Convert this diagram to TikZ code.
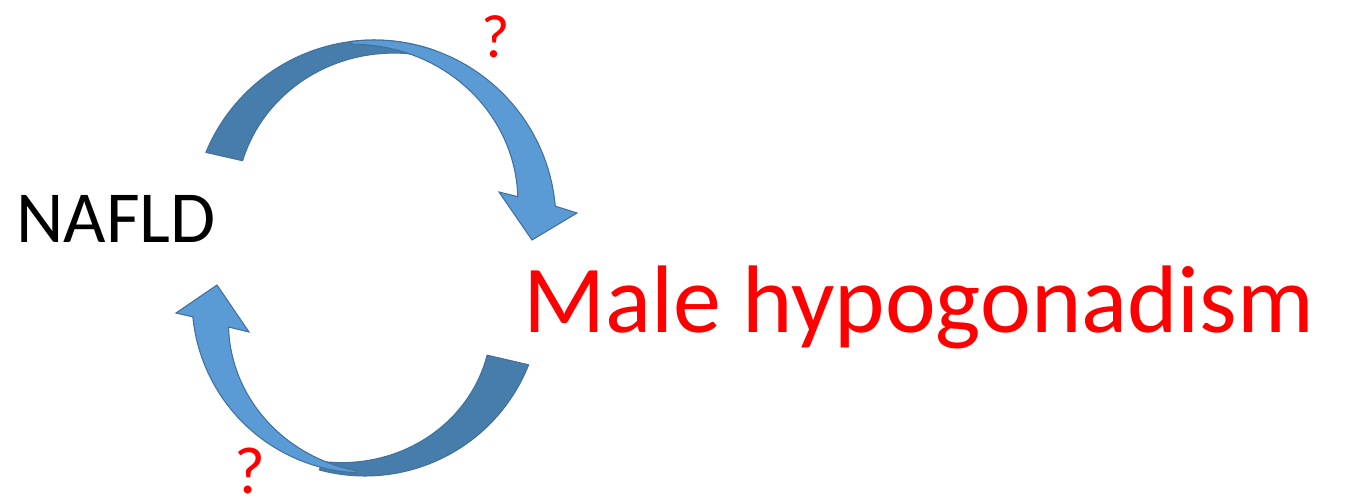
\documentclass[tikz,border=0pt]{standalone}
\usepackage{fontspec}
\setmainfont{Carlito}
\usepackage{tikz}
\usetikzlibrary{positioning}
\definecolor{bandDark}{HTML}{467DAA}
\definecolor{bandLight}{HTML}{5B9BD5}
\definecolor{bandLine}{HTML}{41719C}
\definecolor{qRed}{HTML}{FF0000}
\tikzset{
  backband/.style={fill=bandDark, draw=bandLine, line width=0.8pt, line join=round},
  frontband/.style={fill=bandLight, draw=bandLine, line width=0.8pt, line join=miter},
  term/.style={inner sep=0pt, anchor=base west},
  qmark/.style={inner sep=0pt, anchor=base, text=qRed},
}

\begin{document}
\begin{tikzpicture}[x=0.75pt, y=-0.75pt]
  \useasboundingbox (0,0) rectangle (1345,500);
  \node[term, font=\fontsize{55}{60}\selectfont] (nafld) at (16,242) {NAFLD};
  \node[term, text=qRed, font=\fontsize{72}{80}\selectfont] (hypo) at (523,332) {Male hypogonadism};
  % upper arrow, NAFLD -> hypogonadism
  \path[backband] plot[domain=157.5:70, samples=40] ({374+182*cos(\x)}, {222-182*sin(\x)})
    -- plot[domain=70:155, samples=40] ({374+(145+0.35*(155-\x))*cos(\x)}, {222-(145+0.35*(155-\x))*sin(\x)}) -- cycle;
  \path[frontband] plot[domain=97:5, samples=40] ({374+182*cos(\x)}, {222-182*sin(\x)})
    -- (577,213) -- (532,240) -- (499,192)
    -- plot[domain=10:97, samples=40] ({374+(146+0.38*(\x-10))*cos(\x)}, {222-(146+0.38*(\x-10))*sin(\x)}) -- cycle;
  % lower arrow, hypogonadism -> NAFLD
  \path[backband] plot[domain=-21.6:-105, samples=40] ({365+176*cos(\x)}, {300-176*sin(\x)})
    -- plot[domain=-105:-24.3, samples=40] ({365+(134+0.41*(-24.3-\x))*cos(\x)}, {300-(134+0.41*(-24.3-\x))*sin(\x)}) -- cycle;
  \path[frontband] plot[domain=-93:-174.4, samples=40] ({365+173*cos(\x)}, {300-173*sin(\x)})
    -- (176,313) -- (217,285) -- (249,332)
    -- plot[domain=-168.8:-93, samples=40] ({365+(139+0.42*(\x+169))*cos(\x)}, {300-(139+0.42*(\x+169))*sin(\x)}) -- cycle;
  \node[qmark, font=\fontsize{46}{50}\selectfont] (qtop) at (496,57) {?};
  \node[qmark, font=\fontsize{50}{55}\selectfont] (qbot) at (250,493) {?};
\end{tikzpicture}
\end{document}
